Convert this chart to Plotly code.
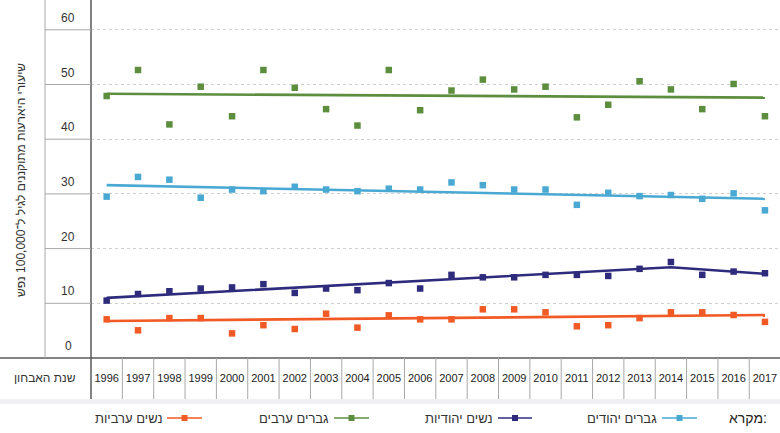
import plotly.graph_objects as go

years = list(range(1996, 2018))

jewish_men = [29.5, 33.1, 32.6, 29.3, 30.8, 30.5, 31.3, 30.8, 30.5, 30.95, 30.8,
              32.1, 31.6, 30.8, 30.8, 28.0, 30.2, 29.6, 29.8, 29.1, 30.1, 27.0]
jewish_women = [10.5, 11.7, 12.2, 12.7, 12.9, 13.5, 11.9, 12.7, 12.4, 13.7, 12.7,
                15.2, 14.75, 14.75, 15.2, 15.2, 15.0, 16.3, 17.55, 15.2, 15.8, 15.5]
arab_men = [47.9, 52.65, 42.7, 49.6, 44.2, 52.65, 49.4, 45.5, 42.5, 52.65, 45.3,
            48.9, 50.9, 49.1, 49.6, 44.0, 46.3, 50.6, 49.1, 45.5, 50.1, 44.2]
arab_women = [7.07, 5.06, 7.3, 7.3, 4.5, 6.0, 5.3, 8.1, 5.55, 7.8, 7.07,
              7.07, 8.9, 8.9, 8.35, 5.8, 6.0, 7.3, 8.35, 8.35, 7.86, 6.6]

# fitted trend lines
trend_jm_years = [1996, 2017]
trend_jm = [31.6, 29.1]
trend_jw_years = [1996, 2014, 2017]
trend_jw = [11.0, 16.6, 15.4]
trend_am_years = [1996, 2017]
trend_am = [48.3, 47.6]
trend_aw_years = [1996, 2017]
trend_aw = [6.76, 7.86]

y_ticks = [0, 10, 20, 30, 40, 50, 60]
series_names = ["גברים יהודים", "נשים יהודיות", "גברים ערבים", "נשים ערביות"]
legend_title = "מקרא:"
y_title = "שיעורי היארעות מתוקננים לגיל ל־100,000 נפש"
x_title = "שנת האבחון"

colors = ["#49a9d3", "#2e2b7d", "#5c8e3e", "#f15a24"]

W, H = 780, 433
L, B = 91, 75
PW, PH = W - L, H - B

FONT = "Liberation Sans"

fig = go.Figure()

point_sets = [jewish_men, jewish_women, arab_men, arab_women]
trend_sets = [(trend_jm_years, trend_jm), (trend_jw_years, trend_jw),
              (trend_am_years, trend_am), (trend_aw_years, trend_aw)]

for name, pts, (ty, tv), c in zip(series_names, point_sets, trend_sets, colors):
    fig.add_trace(go.Scatter(x=ty, y=tv, mode="lines", line=dict(color=c, width=2.6),
                             showlegend=False, hoverinfo="skip"))
    fig.add_trace(go.Scatter(x=years, y=pts, mode="markers", name=name,
                             marker=dict(symbol="square", size=6.5, color=c),
                             showlegend=False))

def px_to_paper_x(px):
    return (px - L) / PW

def px_to_paper_y(py):
    return (H - B - py) / PH

shapes = []
annotations = []

# main horizontal axis line across full width
shapes.append(dict(type="line", xref="paper", yref="paper",
                   x0=px_to_paper_x(0), x1=1, y0=0, y1=0,
                   line=dict(color="#5a5a5a", width=1.5)))
# main vertical axis line
shapes.append(dict(type="line", xref="paper", yref="paper",
                   x0=0, x1=0, y0=px_to_paper_y(399), y1=1,
                   line=dict(color="#5a5a5a", width=1.5)))
# left column separator
shapes.append(dict(type="line", xref="paper", yref="paper",
                   x0=px_to_paper_x(45), x1=px_to_paper_x(45), y0=0, y1=1,
                   line=dict(color="#a8a8a8", width=1)))
# row separators in the left column and tick labels
for v in y_ticks:
    if v > 0:
        shapes.append(dict(type="line", xref="paper", yref="y",
                           x0=px_to_paper_x(45), x1=0, y0=v, y1=v,
                           line=dict(color="#a8a8a8", width=1)))
    annotations.append(dict(xref="paper", yref="y", x=px_to_paper_x(68), y=v,
                            yanchor="bottom", xanchor="center", yshift=3,
                            text=str(v), showarrow=False,
                            font=dict(family=FONT, size=12, color="#333333")))
# year separators
for yr in years[:-1]:
    shapes.append(dict(type="line", xref="x", yref="paper",
                       x0=yr + 0.5, x1=yr + 0.5, y0=0, y1=px_to_paper_y(399),
                       line=dict(color="#a8a8a8", width=1)))
# light band below table
shapes.append(dict(type="rect", xref="paper", yref="paper",
                   x0=px_to_paper_x(0), x1=1, y0=px_to_paper_y(404), y1=px_to_paper_y(399),
                   fillcolor="#f1f1f4", line=dict(width=0), layer="below"))

# x axis title cell
annotations.append(dict(xref="paper", yref="paper", x=px_to_paper_x(45), y=px_to_paper_y(378),
                        xanchor="center", yanchor="middle", text=x_title, showarrow=False,
                        font=dict(family=FONT, size=12, color="#333333")))
# y title
annotations.append(dict(xref="paper", yref="paper", x=px_to_paper_x(21), y=px_to_paper_y(180),
                        xanchor="center", yanchor="middle", text=y_title, showarrow=False,
                        textangle=-90, font=dict(family=FONT, size=12, color="#333333")))

# custom RTL legend
annotations.append(dict(xref="paper", yref="paper", x=px_to_paper_x(769), y=px_to_paper_y(418),
                        xanchor="right", yanchor="middle", text=legend_title, showarrow=False,
                        font=dict(family=FONT, size=14, color="#222222")))
leg_sym_x = [(662, 697), (498, 532), (334, 369), (167, 202)]
for name, c, (a, b) in zip(series_names, colors, leg_sym_x):
    shapes.append(dict(type="line", xref="paper", yref="paper",
                       x0=px_to_paper_x(a), x1=px_to_paper_x(b),
                       y0=px_to_paper_y(418), y1=px_to_paper_y(418),
                       line=dict(color=c, width=1.5)))
    m = (a + b) / 2
    shapes.append(dict(type="rect", xref="paper", yref="paper",
                       x0=px_to_paper_x(m - 3), x1=px_to_paper_x(m + 3),
                       y0=px_to_paper_y(421), y1=px_to_paper_y(415),
                       fillcolor=c, line=dict(width=0)))
    annotations.append(dict(xref="paper", yref="paper", x=px_to_paper_x(a - 3), y=px_to_paper_y(418),
                            xanchor="right", yanchor="middle", text=name, showarrow=False,
                            font=dict(family=FONT, size=13, color="#333333")))

fig.update_layout(
    width=W, height=H,
    margin=dict(l=L, r=0, t=0, b=B),
    paper_bgcolor="white", plot_bgcolor="white",
    shapes=shapes, annotations=annotations,
    xaxis=dict(range=[1995.5, 2017.48], tickvals=years, ticktext=[str(y) for y in years],
               showgrid=False, zeroline=False, showline=False, ticks="",
               ticklabelstandoff=12,
               tickfont=dict(family=FONT, size=11, color="#222222")),
    yaxis=dict(range=[0, 65.45], tickvals=y_ticks[1:], showticklabels=False,
               showgrid=True, gridcolor="#cfcfcf", griddash="dot", gridwidth=1,
               zeroline=False, showline=False, ticks=""),
    showlegend=False,
)

fig.write_html("out.html", config={"displayModeBar": False},
               post_script="document.body.style.margin='0';document.body.style.overflow='hidden';")
